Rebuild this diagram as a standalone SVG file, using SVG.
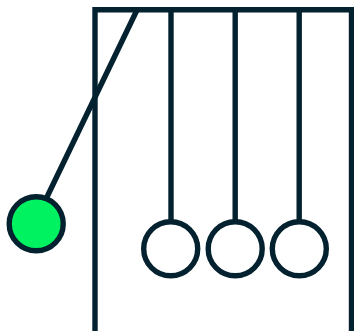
<svg xmlns="http://www.w3.org/2000/svg" width="354" height="331" viewBox="0 0 354 331">
<style>
.l{fill:none;stroke:#03212f;stroke-width:5.4}
.b{fill:#fff;stroke:#03212f;stroke-width:5.4}
</style>
<rect width="354" height="331" fill="#fff"/>
<g id="connectors">
<path id="frame" class="l" d="M95 331V9.8H351.5V331"/>
<path class="l" d="M137 10L46 199"/>
<path class="l" d="M171 10V222"/>
<path class="l" d="M235.2 10V222"/>
<path class="l" d="M299.2 10V222"/>
</g>
<g id="ball-green"><circle cx="36.2" cy="223.7" r="27" fill="#00f260" stroke="#03212f" stroke-width="5.4"/></g>
<g id="ball-1"><circle class="b" cx="170.7" cy="248.8" r="27"/></g>
<g id="ball-2"><circle class="b" cx="235.2" cy="248.8" r="27"/></g>
<g id="ball-3"><circle class="b" cx="299.3" cy="248.8" r="27"/></g>
</svg>
